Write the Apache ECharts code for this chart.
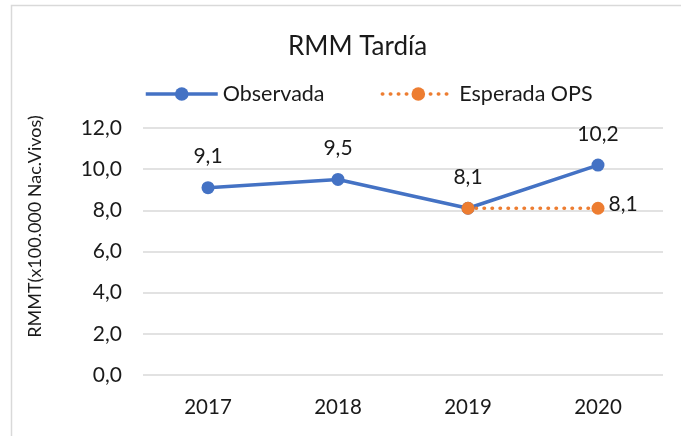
<!DOCTYPE html>
<html><head><meta charset="utf-8">
<script src="https://cdn.jsdelivr.net/npm/echarts@6/dist/echarts.min.js"></script>
<style>html,body{margin:0;padding:0;background:#fff}#c{width:681px;height:436px}</style>
</head><body><div id="c"></div>
<script>
var categories = ['2017', '2018', '2019', '2020'];
var observada = [9.1, 9.5, 8.1, 10.2];
var esperada = [null, null, 8.1, 8.1];
var yTicks = [0, 2, 4, 6, 8, 10, 12];

var FONT = 'Lato';
var TXT = '#1a1a1a';
function fmt(v){ return Number(v).toFixed(1).replace('.', ','); }

var chart = echarts.init(document.getElementById('c'));
chart.setOption({
  animation: false,
  textStyle: { fontFamily: FONT },
  graphic: [
    { type: 'polyline', shape: { points: [[11.5, 436], [11.5, 5.5], [681, 5.5]] }, style: { stroke: '#d9d9d9', lineWidth: 1.5, fill: null } }
  ],
  title: {
    text: 'RMM Tardía', left: 283, top: 29,
    textStyle: { fontFamily: FONT, fontSize: 26, fontWeight: 'normal', color: TXT }
  },
  legend: {
    top: 78, left: 139,
    itemWidth: 72, itemHeight: 17, itemGap: 56,
    lineStyle: { width: 3.5 },
    textStyle: { fontFamily: FONT, fontSize: 21.5, color: TXT },
    data: ['Observada', 'Esperada OPS']
  },
  grid: { left: 143, right: 18, top: 128, bottom: 61 },
  xAxis: {
    type: 'category', data: categories, boundaryGap: true,
    axisLine: { show: false }, axisTick: { show: false },
    axisLabel: { fontFamily: FONT, fontSize: 20.5, color: TXT, margin: 22 }
  },
  yAxis: {
    type: 'value', min: yTicks[0], max: yTicks[yTicks.length - 1], interval: 2,
    name: 'RMMT(x100.000 Nac.Vivos)', nameLocation: 'middle', nameGap: 99, nameRotate: 90,
    nameTextStyle: { fontFamily: FONT, fontSize: 18, color: TXT, padding: [0, 0, 0, 50] },
    axisLine: { show: false }, axisTick: { show: false },
    axisLabel: { fontFamily: FONT, fontSize: 21, color: TXT, margin: 21, formatter: fmt },
    splitLine: { lineStyle: { color: '#d9d9d9', width: 1.5 } }
  },
  series: [
    {
      name: 'Observada', type: 'line', data: observada,
      symbol: 'circle', symbolSize: 13,
      lineStyle: { color: '#4472C4', width: 3.5 },
      itemStyle: { color: '#4472C4' },
      label: { show: true, position: 'top', distance: 14, fontFamily: FONT, fontSize: 21, color: TXT, formatter: function(p){ return fmt(p.value); } }
    },
    {
      name: 'Esperada OPS', type: 'line', data: esperada,
      symbol: 'circle', symbolSize: 13,
      lineStyle: { color: '#ED7D31', width: 3.5, type: [0.5, 7.5], cap: 'round' },
      itemStyle: { color: '#ED7D31' },
      label: { show: true, position: 'right', distance: 4, offset: [0, -4], fontFamily: FONT, fontSize: 21, color: TXT,
        formatter: function(p){ return p.dataIndex === 3 ? fmt(p.value) : ''; } }
    }
  ]
});
</script></body></html>
